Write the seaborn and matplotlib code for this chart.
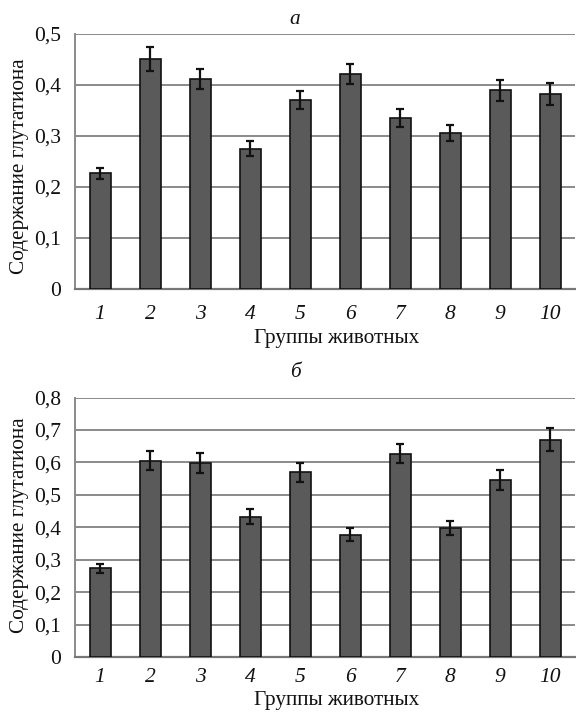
import numpy as np
import pandas as pd
import matplotlib
matplotlib.use("Agg")
import matplotlib.pyplot as plt
import seaborn as sns

groups = ["1", "2", "3", "4", "5", "6", "7", "8", "9", "10"]
values_a = [0.226, 0.451, 0.411, 0.275, 0.370, 0.421, 0.335, 0.305, 0.389, 0.382]
errors_a = [0.010, 0.023, 0.020, 0.014, 0.018, 0.020, 0.017, 0.016, 0.020, 0.021]
values_b = [0.273, 0.605, 0.599, 0.432, 0.569, 0.377, 0.627, 0.398, 0.546, 0.670]
errors_b = [0.013, 0.030, 0.031, 0.023, 0.030, 0.020, 0.030, 0.022, 0.030, 0.035]

panel_titles = ["а", "б"]
ylabel = "Содержание глутатиона"
xlabel = "Группы животных"
ylims = [0.5, 0.8]

sns.set_theme(style="white")
plt.rcParams["font.family"] = ["Liberation Serif", "DejaVu Serif"]

fig = plt.figure(figsize=(5.76, 7.12), dpi=100)
W, H = 576, 712
def rect(l, r, t, b):
    return [l / W, 1 - b / H, (r - l) / W, (b - t) / H]

ax_a = fig.add_axes(rect(75, 575, 34, 288.5))
ax_b = fig.add_axes(rect(75, 575, 397.5, 657))

fs_tick = 15.5
fs_lab = 15.3
grid_col = "#8a8a8a"
for ax, vals, errs, ymax, title, ttl_y, xl_y, yl_y, xpad in [
    (ax_a, values_a, errors_a, ylims[0], panel_titles[0], 20, 338, 166, 12),
    (ax_b, values_b, errors_b, ylims[1], panel_titles[1], 372, 700, 525, 8),
]:
    df = pd.DataFrame({"group": groups, "value": vals})
    sns.barplot(data=df, x="group", y="value", ax=ax, color="#5a5a5a",
                saturation=1, width=0.42, edgecolor="#111111", linewidth=1.2,
                errorbar=None, zorder=3)
    ax.errorbar(np.arange(len(groups)), vals, yerr=errs, fmt="none",
                ecolor="#111111", elinewidth=1.6, capsize=3.0, capthick=1.6, zorder=4)
    ax.set_xlim(-0.5, len(groups) - 0.5)
    ax.set_ylim(0, ymax)
    yt = np.round(np.arange(0, ymax + 0.001, 0.1), 1)
    ax.set_yticks(yt)
    ax.set_yticklabels(["0" if v == 0 else f"{v:.1f}".replace(".", ",") for v in yt],
                       fontsize=fs_tick)
    ax.yaxis.grid(True, color=grid_col, linewidth=1.4, zorder=0)
    ax.set_axisbelow(True)
    for s in ["top", "right"]:
        ax.spines[s].set_visible(False)
    ax.spines["left"].set_color(grid_col)
    ax.spines["left"].set_linewidth(1.4)
    ax.spines["bottom"].set_color("#777777")
    ax.spines["bottom"].set_linewidth(1.6)
    ax.tick_params(axis="y", which="major", length=7, width=1.4, color=grid_col,
                   direction="out", pad=3, labelcolor="#111111")
    ax.set_xticks(np.arange(len(groups)))
    ax.set_xticklabels(groups, fontsize=fs_tick, fontstyle="italic", color="#111111")
    ax.set_xticks(np.arange(-0.5, len(groups)), minor=True)
    ax.tick_params(axis="x", which="major", length=0, pad=xpad)
    ax.tick_params(axis="x", which="minor", length=5, width=1.4, color=grid_col,
                   direction="out")
    ax.set_xlabel("")
    ax.set_ylabel("")
    fig.text(295 / W, 1 - ttl_y / H, title, ha="center", va="center",
             fontsize=fs_lab, fontstyle="italic", color="#111111")
    fig.text(337 / W, 1 - xl_y / H, xlabel, ha="center", va="center",
             fontsize=fs_lab, color="#111111")
    fig.text(20 / W, 1 - yl_y / H, ylabel, ha="center",
             va="center", rotation=90, fontsize=fs_lab, color="#111111")

fig.savefig("out.png", dpi=100, facecolor="white")
